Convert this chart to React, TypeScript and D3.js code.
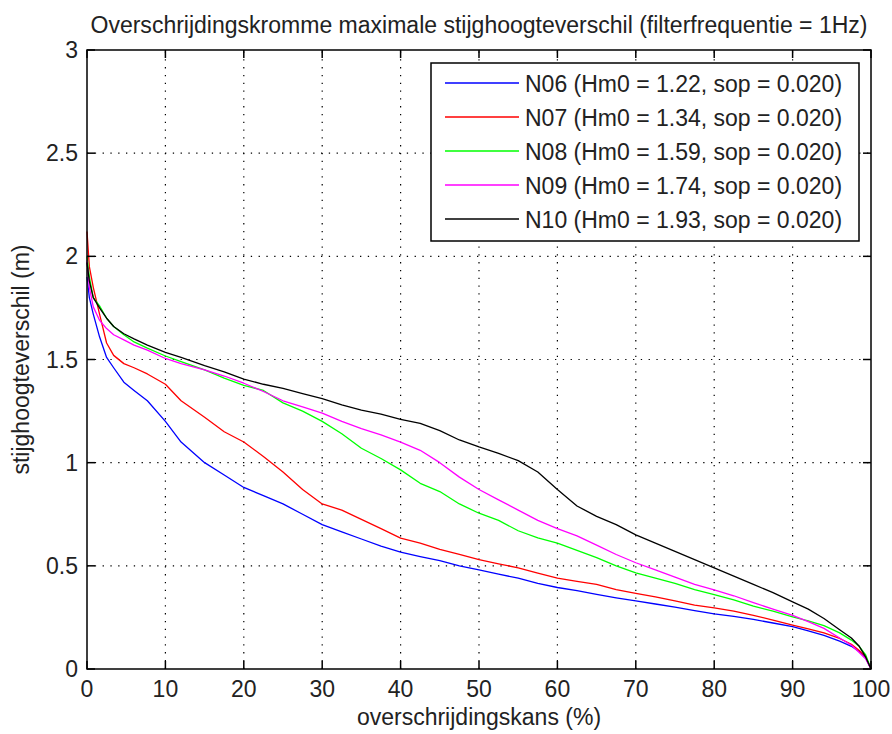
import React from "react";
import * as d3 from "d3";

const X = [0, 0.3, 0.8, 1.6, 2.5, 3.4, 4.7, 6, 7.7, 10, 12, 15, 17.5, 20, 22.5, 25, 27.5, 30, 32.5, 35, 37.5, 40, 42.5, 45, 47.5, 50, 52.5, 55, 57.5, 60, 62.5, 65, 67.5, 70, 72.5, 75, 77.5, 80, 82.5, 85, 87.5, 90, 92, 94, 96, 97.5, 98.5, 99.3, 100];

const N06 = [1.9, 1.8, 1.72, 1.61, 1.51, 1.46, 1.39, 1.35, 1.3, 1.2, 1.1, 1.0, 0.94, 0.88, 0.84, 0.8, 0.75, 0.7, 0.665, 0.63, 0.595, 0.567, 0.545, 0.525, 0.5, 0.48, 0.46, 0.44, 0.415, 0.395, 0.38, 0.362, 0.345, 0.33, 0.315, 0.3, 0.283, 0.267, 0.255, 0.24, 0.223, 0.205, 0.185, 0.163, 0.135, 0.11, 0.085, 0.055, 0];
const N07 = [2.12, 1.95, 1.85, 1.72, 1.58, 1.52, 1.48, 1.46, 1.43, 1.38, 1.3, 1.22, 1.15, 1.1, 1.03, 0.955, 0.87, 0.8, 0.77, 0.725, 0.68, 0.634, 0.61, 0.58, 0.555, 0.53, 0.51, 0.49, 0.465, 0.44, 0.425, 0.41, 0.385, 0.367, 0.35, 0.33, 0.31, 0.296, 0.28, 0.26, 0.237, 0.213, 0.195, 0.175, 0.148, 0.12, 0.09, 0.06, 0];
const N08 = [2.0, 1.9, 1.8, 1.76, 1.7, 1.66, 1.62, 1.585, 1.555, 1.517, 1.49, 1.45, 1.41, 1.375, 1.35, 1.29, 1.25, 1.2, 1.14, 1.07, 1.02, 0.965, 0.9, 0.86, 0.8, 0.755, 0.72, 0.67, 0.635, 0.61, 0.575, 0.54, 0.5, 0.466, 0.44, 0.415, 0.385, 0.36, 0.335, 0.305, 0.28, 0.253, 0.233, 0.21, 0.175, 0.14, 0.11, 0.07, 0];
const N09 = [1.98, 1.85, 1.755, 1.69, 1.65, 1.62, 1.595, 1.57, 1.545, 1.505, 1.48, 1.45, 1.42, 1.385, 1.345, 1.3, 1.27, 1.24, 1.2, 1.165, 1.135, 1.1, 1.06, 1.0, 0.93, 0.87, 0.82, 0.77, 0.72, 0.68, 0.645, 0.6, 0.555, 0.515, 0.48, 0.445, 0.41, 0.383, 0.355, 0.322, 0.29, 0.26, 0.23, 0.197, 0.15, 0.115, 0.08, 0.05, 0];
const N10 = [1.97, 1.88, 1.8, 1.75, 1.7, 1.66, 1.625, 1.6, 1.57, 1.535, 1.51, 1.47, 1.44, 1.405, 1.38, 1.36, 1.335, 1.31, 1.28, 1.255, 1.235, 1.21, 1.19, 1.155, 1.11, 1.076, 1.045, 1.01, 0.955, 0.87, 0.79, 0.74, 0.7, 0.65, 0.61, 0.57, 0.53, 0.49, 0.45, 0.41, 0.37, 0.325, 0.29, 0.245, 0.19, 0.15, 0.11, 0.06, 0];

const SERIES_LABELS = [
  "N06 (Hm0 = 1.22, sop = 0.020)",
  "N07 (Hm0 = 1.34, sop = 0.020)",
  "N08 (Hm0 = 1.59, sop = 0.020)",
  "N09 (Hm0 = 1.74, sop = 0.020)",
  "N10 (Hm0 = 1.93, sop = 0.020)",
];
const SERIES_VALUES = [N06, N07, N08, N09, N10];
const COLORS = ["#0000ff", "#ff0000", "#00ff00", "#ff00ff", "#000000"];

const X_TICKS = [0, 10, 20, 30, 40, 50, 60, 70, 80, 90, 100];
const Y_TICKS = [0, 0.5, 1, 1.5, 2, 2.5, 3];

const TITLE = "Overschrijdingskromme maximale stijghoogteverschil (filterfrequentie = 1Hz)";
const X_LABEL = "overschrijdingskans (%)";
const Y_LABEL = "stijghoogteverschil (m)";

const W = 892;
const H = 734;
const L = 87, R = 871, T = 50, B = 669;
const FONT = "'Liberation Sans', Arial, Helvetica, sans-serif";
const FS = 23;

export default function App() {
  const x = d3.scaleLinear().domain([0, 100]).range([L, R]);
  const y = d3.scaleLinear().domain([0, 3]).range([B, T]);
  const line = d3
    .line<[number, number]>()
    .x((d) => x(d[0]))
    .y((d) => y(d[1]));
  const tickLen = 8;

  const legL = 431, legT = 63, legR = 859, legB = 241;
  const rowY = (i: number) => 83 + i * 34;

  return (
    <svg
      width={W}
      height={H}
      style={{ position: "absolute", left: 0, top: 0, background: "#fff" }}
      fontFamily={FONT}
    >
      <rect x={0} y={0} width={W} height={H} fill="#fff" />
      {/* grid */}
      <g stroke="#000" strokeWidth={1.2} strokeDasharray="1.3,6.5">
        {X_TICKS.filter((t) => t > 0 && t < 100).map((t) => (
          <line key={"gx" + t} x1={x(t)} x2={x(t)} y1={B} y2={T} />
        ))}
        {Y_TICKS.filter((t) => t > 0 && t < 3).map((t) => (
          <line key={"gy" + t} x1={L} x2={R} y1={y(t)} y2={y(t)} />
        ))}
      </g>
      {/* data lines */}
      <g fill="none" strokeWidth={1.3} strokeLinejoin="round">
        {SERIES_VALUES.map((vals, i) => (
          <path
            key={"s" + i}
            d={line(X.map((xv, j) => [xv, vals[j]] as [number, number])) || ""}
            stroke={COLORS[i]}
          />
        ))}
      </g>
      {/* axes box & ticks */}
      <g stroke="#000" strokeWidth={1.5}>
        {X_TICKS.map((t) => (
          <g key={"tx" + t}>
            <line x1={x(t)} x2={x(t)} y1={B} y2={B - tickLen} />
            <line x1={x(t)} x2={x(t)} y1={T} y2={T + tickLen} />
          </g>
        ))}
        {Y_TICKS.map((t) => (
          <g key={"ty" + t}>
            <line x1={L} x2={L + tickLen} y1={y(t)} y2={y(t)} />
            <line x1={R} x2={R - tickLen} y1={y(t)} y2={y(t)} />
          </g>
        ))}
        <rect x={L} y={T} width={R - L} height={B - T} fill="none" />
      </g>
      {/* tick labels */}
      <g fontSize={FS} fill="#222">
        {X_TICKS.map((t) => (
          <text key={"lx" + t} x={x(t)} y={697} textAnchor="middle">
            {String(t)}
          </text>
        ))}
        {Y_TICKS.map((t) => (
          <text key={"ly" + t} x={78} y={y(t) + 8} textAnchor="end">
            {String(t)}
          </text>
        ))}
      </g>
      {/* title & labels */}
      <text x={(L + R) / 2} y={33} fontSize={FS} textAnchor="middle" fill="#222" textLength={777} lengthAdjust="spacingAndGlyphs">
        {TITLE}
      </text>
      <text x={(L + R) / 2} y={725} fontSize={FS} textAnchor="middle" fill="#222">
        {X_LABEL}
      </text>
      <text
        transform={`translate(29,${(T + B) / 2}) rotate(-90)`}
        fontSize={FS}
        textAnchor="middle"
        fill="#222"
      >
        {Y_LABEL}
      </text>
      {/* legend */}
      <rect x={legL} y={legT} width={legR - legL} height={legB - legT} fill="#fff" stroke="#000" strokeWidth={1.5} />
      {SERIES_LABELS.map((lab, i) => (
        <g key={"lg" + i}>
          <line x1={445} x2={519} y1={rowY(i)} y2={rowY(i)} stroke={COLORS[i]} strokeWidth={1.3} />
          <text x={525} y={rowY(i) + 8.5} fontSize={FS} fill="#222">
            {lab}
          </text>
        </g>
      ))}
    </svg>
  );
}
